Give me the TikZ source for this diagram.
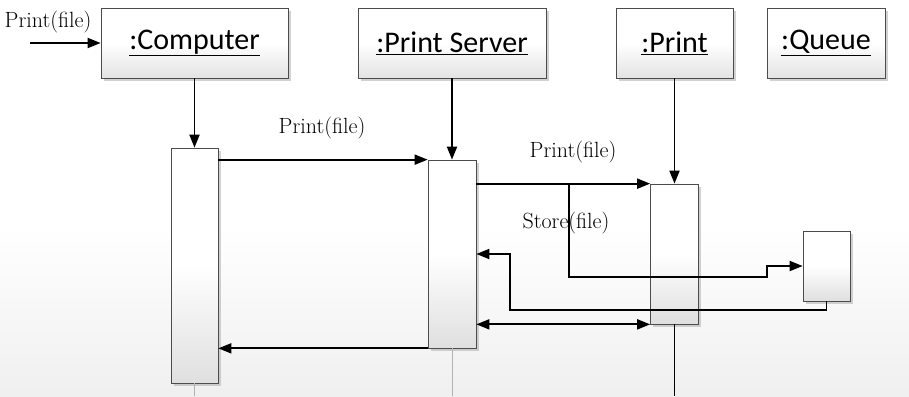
\documentclass[tikz,border=0pt]{standalone}
\usepackage{fontspec}
\newfontfamily\objfont{Carlito}
\usetikzlibrary{arrows.meta, shadows}

\begin{document}
\begin{tikzpicture}[
    x=1pt, y=-1pt,
    object/.style={rectangle, draw=gray!60!black, line width=0.7pt,
        top color=white, bottom color=gray!22, middle color=white,
        drop shadow={shadow xshift=3pt, shadow yshift=-3pt, fill=gray!70},
        minimum height=70pt, inner sep=0pt,
        font=\objfont\fontsize{30}{33}\selectfont},
    activation/.style={rectangle, draw=gray!60!black, line width=0.7pt,
        top color=white, bottom color=gray!25, middle color=white,
        drop shadow={shadow xshift=2.5pt, shadow yshift=-2.5pt, fill=gray!70},
        minimum width=47pt, inner sep=0pt},
    tip/.style={Triangle[length=13pt, width=10pt]},
    msg/.style={line width=1.8pt, -{Triangle[length=13pt, width=10pt]}},
    label/.style={font=\fontsize{22}{24}\selectfont, inner sep=0pt},
    lifeline/.style={gray!60, line width=0.8pt},
    ]
    \useasboundingbox (0,0) rectangle (909,396);
    \fill[top color=white, bottom color=gray!12] (0,225) rectangle (909,396);

    % objects
    \node [object, minimum width=187pt] (computer) at (194.5,43) {\underline{:Computer}};
    \node [object, minimum width=188pt] (server) at (452,43) {\underline{:Print Server}};
    \node [object, minimum width=117pt] (printer) at (674.5,43) {\underline{:Print}};
    \node [object, minimum width=118pt] (queue) at (826,43) {\underline{:Queue}};

    % activation bars
    \node [activation, minimum height=235pt] (actC) at (194.5,265.5) {};
    \node [activation, minimum height=188pt, minimum width=48pt] (actS) at (452,254) {};
    \node [activation, minimum height=140pt, minimum width=48pt] (actP) at (674.5,254) {};
    \node [activation, minimum height=70pt] (actQ) at (826.5,266) {};

    % lifelines
    \draw [msg] (computer.south) -- (actC.north);
    \draw [msg] (server.south) -- (actS.north);
    \draw [msg] (printer.south) -- (actP.north);
    \draw [lifeline] (actC.south) -- (194.5,396);
    \draw [lifeline] (actS.south) -- (452,396);
    \draw [line width=1.8pt] (actP.south) -- (674.5,396);

    % messages
    \coordinate (start) at (30,43);
    \draw [msg] (start) -- (computer.west);
    \node [label] (m0) at (48,22) {Print(file)};

    \draw [msg] (actC.east |- actS.north) -- (actS.north west);
    \node [label] (m1) at (322,128) {Print(file)};

    \draw [msg] (actS.east |- actP.north) -- (actP.north west);
    \node [label] (m2) at (573,152) {Print(file)};

    \coordinate (fork) at (569,184);
    \coordinate (stepup) at (767,277);
    \draw [msg] (fork) |- (stepup) |- (actQ.west);
    \node [label] (m3) at (566,223) {Store(file)};

    \coordinate (back) at (510,310);
    \draw [msg] (actQ.south) |- (back) |- (actS.east);

    \draw [msg, {Triangle[length=13pt, width=10pt]}-{Triangle[length=13pt, width=10pt]}] (actS.east |- actP.south) -- (actP.south west);
    \draw [msg] (actS.south west) -- (actC.east |- actS.south);
\end{tikzpicture}
\end{document}
